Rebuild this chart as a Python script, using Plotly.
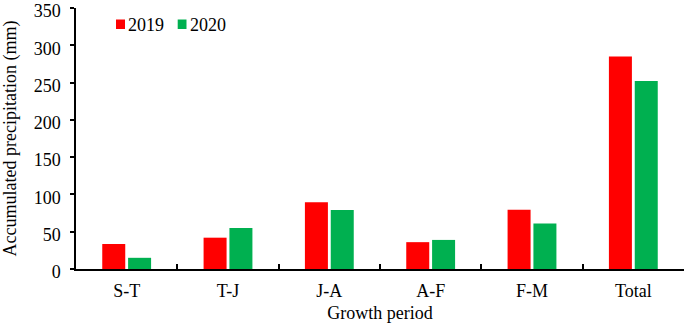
import plotly.graph_objects as go

categories = ["S-T", "T-J", "J-A", "A-F", "F-M", "Total"]
series_names = ["2019", "2020"]
values_2019 = [33.5, 42, 89.5, 36, 79.5, 285]
values_2020 = [15, 55, 79, 39, 61, 252]
y_ticks = [0, 50, 100, 150, 200, 250, 300, 350]
colors = ["#FF0000", "#00B050"]

FONT = "Liberation Serif, Times New Roman, serif"

fig = go.Figure()
for name, vals, col in zip(series_names, [values_2019, values_2020], colors):
    fig.add_trace(go.Bar(name=name, x=categories, y=vals,
                         marker=dict(color=col, line=dict(width=0))))

# Plot area geometry (px) for placing the manual legend
L, R, T, B = 76, 1, 8, 56
W, H = 685, 325
pw, ph = W - L - R, H - T - B

def px_x(x):
    return (x - L) / pw

def px_y(y):
    return (H - B - y) / ph

legend_items = [(116, 125, 126.5), (177.7, 186.5, 188.5)]
shapes, annotations = [], []
for (sx0, sx1, tx), name, col in zip(legend_items, series_names, colors):
    shapes.append(dict(type="rect", xref="paper", yref="paper",
                       x0=px_x(sx0), x1=px_x(sx1), y0=px_y(29), y1=px_y(19.5),
                       fillcolor=col, line=dict(width=0)))
    annotations.append(dict(xref="paper", yref="paper", x=px_x(tx), y=px_y(25),
                            xanchor="left", yanchor="middle", showarrow=False,
                            text=name, font=dict(family=FONT, size=18, color="black"),
                            borderpad=0))

fig.update_layout(
    width=W, height=H,
    margin=dict(l=L, r=R, t=T, b=B, autoexpand=False),
    paper_bgcolor="white", plot_bgcolor="white",
    font=dict(family=FONT, size=18, color="black"),
    barmode="group", bargap=0.49, bargroupgap=0.11,
    showlegend=False,
    shapes=shapes, annotations=annotations,
    xaxis=dict(
        automargin=False,
        showline=True, linecolor="black", linewidth=1.5,
        ticks="inside", ticklen=5, tickwidth=1.5, tickcolor="black",
        tickson="boundaries", showgrid=False, ticklabelstandoff=5,
        title=dict(text="Growth period", font=dict(family=FONT, size=18), standoff=6),
        tickfont=dict(family=FONT, size=18),
    ),
    yaxis=dict(
        automargin=False,
        range=[0, 350.01], tickvals=y_ticks,
        showline=True, linecolor="black", linewidth=1.5,
        ticks="outside", ticklen=4, tickwidth=1.5, tickcolor="black",
        showgrid=False, zeroline=False, ticklabeloverflow="allow",
        ticklabelstandoff=6, ticklabelshift=3,
        title=dict(text="Accumulated precipitation (mm)", font=dict(family=FONT, size=18), standoff=14),
        tickfont=dict(family=FONT, size=18),
    ),
)

fig.write_html("out.html", post_script="document.body.style.margin='0';",
               config={"displayModeBar": False})
